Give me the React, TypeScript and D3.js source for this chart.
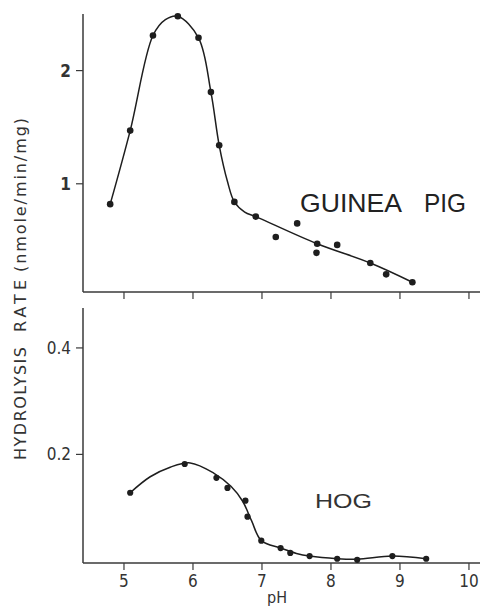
import React from "react";
import * as d3 from "d3";

const W = 482;
const H = 607;

// guinea pig: measured points
const gpPh = [4.8, 5.09, 5.42, 5.78, 6.08, 6.26, 6.38, 6.6, 6.91, 7.2, 7.51, 7.8, 7.79, 8.09, 8.57, 8.8, 9.18];
const gpRate = [0.82, 1.47, 2.31, 2.48, 2.29, 1.81, 1.34, 0.84, 0.71, 0.53, 0.65, 0.47, 0.39, 0.46, 0.3, 0.2, 0.13];
// guinea pig: hand-drawn curve knots
const gpCurvePh = [4.8, 5.09, 5.42, 5.6, 5.78, 6.08, 6.26, 6.38, 6.5, 6.6, 6.75, 6.91, 7.8, 8.57, 9.18];
const gpCurveRate = [0.82, 1.47, 2.31, 2.45, 2.48, 2.29, 1.81, 1.34, 1.02, 0.84, 0.75, 0.71, 0.47, 0.3, 0.13];

// hog: measured points
const hogPh = [5.09, 5.88, 6.34, 6.5, 6.76, 6.79, 6.99, 7.27, 7.41, 7.69, 8.09, 8.38, 8.89, 9.38];
const hogRate = [0.128, 0.182, 0.156, 0.137, 0.113, 0.083, 0.038, 0.024, 0.015, 0.009, 0.004, 0.002, 0.009, 0.004];
// hog: curve knots
const hogCurvePh = [5.09, 5.38, 5.67, 5.96, 6.3, 6.55, 6.72, 6.85, 6.99, 7.27, 7.5, 7.69, 8.09, 8.38, 8.89, 9.38];
const hogCurveRate = [0.128, 0.158, 0.176, 0.184, 0.165, 0.14, 0.112, 0.075, 0.038, 0.024, 0.014, 0.009, 0.004, 0.003, 0.009, 0.004];

const xTicks = [5, 6, 7, 8, 9, 10];
const topYTicks = [1, 2];
const botYTicks = [0.2, 0.4];

// y-axis title pieces: text, start y, length
const yTitle: [string, number, number][] = [
  ["HYDROLYSIS", 460, 113],
  ["RATE", 332, 52],
  ["(nmole/min/mg)", 272, 154],
];

const ink = "#1e1e1e";
const axisInk = "#3a3a3a";
const tickFont = "'DejaVu Sans Condensed', 'DejaVu Sans', sans-serif";
const labelFont = "'Liberation Sans', Arial, sans-serif";

const App = () => {
  const x = d3.scaleLinear().domain([4.406, 10.16]).range([83, 480]);
  const yTop = d3.scaleLinear().domain([0.044, 2.5]).range([292, 14]);
  const yBot = d3.scaleLinear().domain([-0.004, 0.475]).range([563, 308]);

  const lineTop = d3
    .line<number>()
    .x((d, i) => x(gpCurvePh[i]))
    .y((d) => yTop(d))
    .curve(d3.curveCatmullRom.alpha(0.5));
  const lineBot = d3
    .line<number>()
    .x((d, i) => x(hogCurvePh[i]))
    .y((d) => yBot(d))
    .curve(d3.curveCatmullRom.alpha(0.5));

  const panel = (y: d3.ScaleLinear<number, number>, yTicks: number[], fmt: (v: number) => string, bold: boolean, showX: boolean) => {
    const [y0, y1] = y.range();
    return (
      <g>
        <line x1={x.range()[0]} x2={x.range()[0]} y1={y0} y2={y1} stroke={axisInk} strokeWidth={1.5} />
        <line x1={x.range()[0]} x2={x.range()[1]} y1={y0} y2={y0} stroke={axisInk} strokeWidth={1.5} />
        {yTicks.map((t) => (
          <g key={t}>
            <line x1={76} x2={83} y1={y(t)} y2={y(t)} stroke={axisInk} strokeWidth={1.2} />
            <text
              x={71}
              y={y(t) + 6}
              textAnchor="end"
              fontFamily={tickFont}
              fontWeight={bold ? 700 : 400}
              fontSize={17}
              fill="#333"
            >
              {fmt(t)}
            </text>
          </g>
        ))}
        {xTicks.map((t) => (
          <g key={t}>
            <line x1={x(t)} x2={x(t)} y1={y0} y2={y0 + 7} stroke={axisInk} strokeWidth={1.2} />
            {showX && (
              <text x={x(t)} y={587} textAnchor="middle" fontFamily={tickFont} fontSize={17} fill="#333">
                {t}
              </text>
            )}
          </g>
        ))}
      </g>
    );
  };

  return (
    <svg
      width={W}
      height={H}
      style={{ position: "absolute", left: 0, top: 0, background: "#fff" }}
    >
      {panel(yTop, topYTicks, (v) => String(v), true, false)}
      {panel(yBot, botYTicks, (v) => d3.format(".1f")(v), false, true)}

      <path d={lineTop(gpCurveRate) || ""} fill="none" stroke={ink} strokeWidth={1.5} />
      {gpPh.map((p, i) => (
        <circle key={i} cx={x(p)} cy={yTop(gpRate[i])} r={3.3} fill={ink} />
      ))}

      <path d={lineBot(hogCurveRate) || ""} fill="none" stroke={ink} strokeWidth={1.5} />
      {hogPh.map((p, i) => (
        <circle key={i} cx={x(p)} cy={yBot(hogRate[i])} r={3.1} fill={ink} />
      ))}

      <text x={300} y={212} fontFamily={labelFont} fontSize={25} fill="#222" textLength={102} lengthAdjust="spacingAndGlyphs">
        GUINEA
      </text>
      <text x={424} y={212} fontFamily={labelFont} fontSize={25} fill="#222" textLength={42} lengthAdjust="spacingAndGlyphs">
        PIG
      </text>
      <text x={315} y={508} fontFamily={labelFont} fontSize={21} fill="#333" textLength={57} lengthAdjust="spacingAndGlyphs">
        HOG
      </text>

      <text x={277} y={603} textAnchor="middle" fontFamily={tickFont} fontSize={16} fill="#333">
        pH
      </text>

      {yTitle.map(([s, y0, len]) => (
        <text
          key={s}
          transform={`translate(26,${y0}) rotate(-90)`}
          fontFamily="'DejaVu Sans', sans-serif"
          fontSize={16}
          fill="#333"
          textLength={len}
          lengthAdjust="spacing"
        >
          {s}
        </text>
      ))}
    </svg>
  );
};

export default App;
